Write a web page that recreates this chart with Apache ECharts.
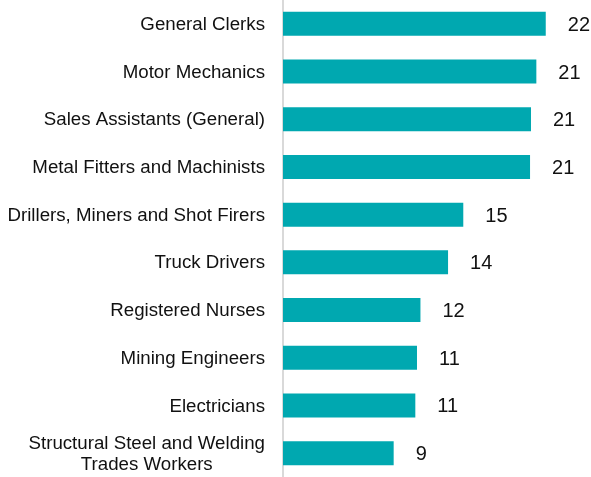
<!DOCTYPE html>
<html>
<head>
<meta charset="utf-8">
<script src="https://cdn.jsdelivr.net/npm/echarts@6/dist/echarts.min.js"></script>
<style>
  html, body { margin: 0; padding: 0; background: #fff; }
  #chart { width: 591px; height: 477px; }
</style>
</head>
<body>
<div id="chart"></div>
<script>
// occupations, top to bottom
const categories = [
  "General Clerks",
  "Motor Mechanics",
  "Sales Assistants (General)",
  "Metal Fitters and Machinists",
  "Drillers, Miners and Shot Firers",
  "Truck Drivers",
  "Registered Nurses",
  "Mining Engineers",
  "Electricians",
  "Structural Steel and Welding\nTrades Workers"
];
// bar lengths
const values = [22.08, 21.29, 20.84, 20.76, 15.15, 13.87, 11.55, 11.26, 11.12, 9.3];
// printed labels
const labels = ["22", "21", "21", "21", "15", "14", "12", "11", "11", "9"];

const FONT = "'Liberation Sans', Arial, sans-serif";

const chart = echarts.init(document.getElementById("chart"));

chart.setOption({
  animation: false,
  backgroundColor: "#fff",
  grid: { left: 283, right: 10.5, top: 0, bottom: -4.5 },
  xAxis: {
    type: "value",
    min: 0,
    max: 25,
    show: false
  },
  yAxis: {
    type: "category",
    inverse: true,
    data: categories,
    axisLine: { show: true, lineStyle: { color: "#d9d9d9", width: 2 } },
    axisTick: { show: false },
    axisLabel: {
      margin: 18,
      color: "#111",
      fontSize: 18.7,
      lineHeight: 21,
      fontFamily: FONT,
      padding: [2, 0, 0, 0],
      formatter: (v) => {
        if (v.indexOf("\n") < 0) return v;
        // two-line label is centred in the original
        return v.split("\n").map((s) => "{c|" + s + "}").join("\n");
      },
      rich: {
        c: { align: "center", fontSize: 18.7, lineHeight: 21, color: "#111", fontFamily: FONT }
      }
    }
  },
  series: [
    {
      type: "bar",
      data: values,
      barWidth: 24,
      itemStyle: { color: "#00A8B0" },
      label: {
        show: true,
        position: "right",
        distance: 22,
        offset: [0, 1.5],
        color: "#111",
        fontSize: 20,
        fontFamily: FONT,
        formatter: (p) => labels[p.dataIndex]
      }
    }
  ]
});
</script>
</body>
</html>
